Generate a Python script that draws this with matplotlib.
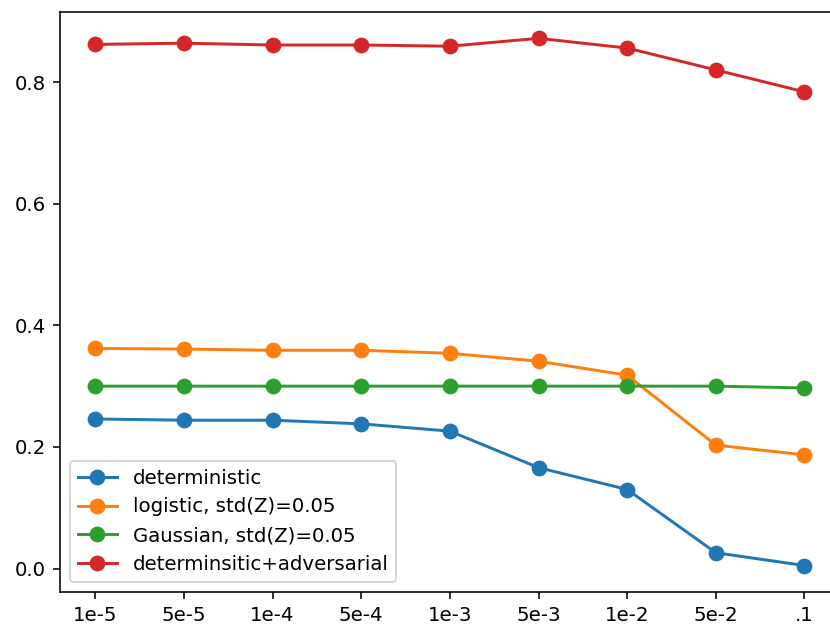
import matplotlib
matplotlib.use("Agg")
import matplotlib.pyplot as plt

# Etiquetes de l'eix x (valors de regularització)
x_labels = ["1e-5", "5e-5", "1e-4", "5e-4", "1e-3", "5e-3", "1e-2", "5e-2", ".1"]

# Valors llegits de la figura
deterministic = [0.246, 0.244, 0.244, 0.238, 0.226, 0.166, 0.130, 0.026, 0.005]
logistic = [0.362, 0.361, 0.359, 0.359, 0.354, 0.341, 0.318, 0.203, 0.187]
gaussian = [0.300, 0.300, 0.300, 0.300, 0.300, 0.300, 0.300, 0.300, 0.297]
adversarial = [0.862, 0.864, 0.861, 0.861, 0.859, 0.872, 0.856, 0.820, 0.784]

# La figura original sembla feta amb mides per defecte i escalada ~1.42x
dpi = 142
fig = plt.figure(figsize=(830 / dpi, 629 / dpi), dpi=dpi)
ax = fig.add_axes([0.072, 0.059, 0.94, 0.922])

x = range(len(x_labels))
ax.plot(x, deterministic, "o-", markersize=7, label="deterministic")
ax.plot(x, logistic, "o-", markersize=7, label="logistic, std(Z)=0.05")
ax.plot(x, gaussian, "o-", markersize=7, label="Gaussian, std(Z)=0.05")
ax.plot(x, adversarial, "o-", markersize=7, label="determinsitic+adversarial")

ax.set_xticks(list(x))
ax.set_xticklabels(x_labels)
ax.legend(loc="lower left")

fig.savefig("out.png", dpi=dpi)
